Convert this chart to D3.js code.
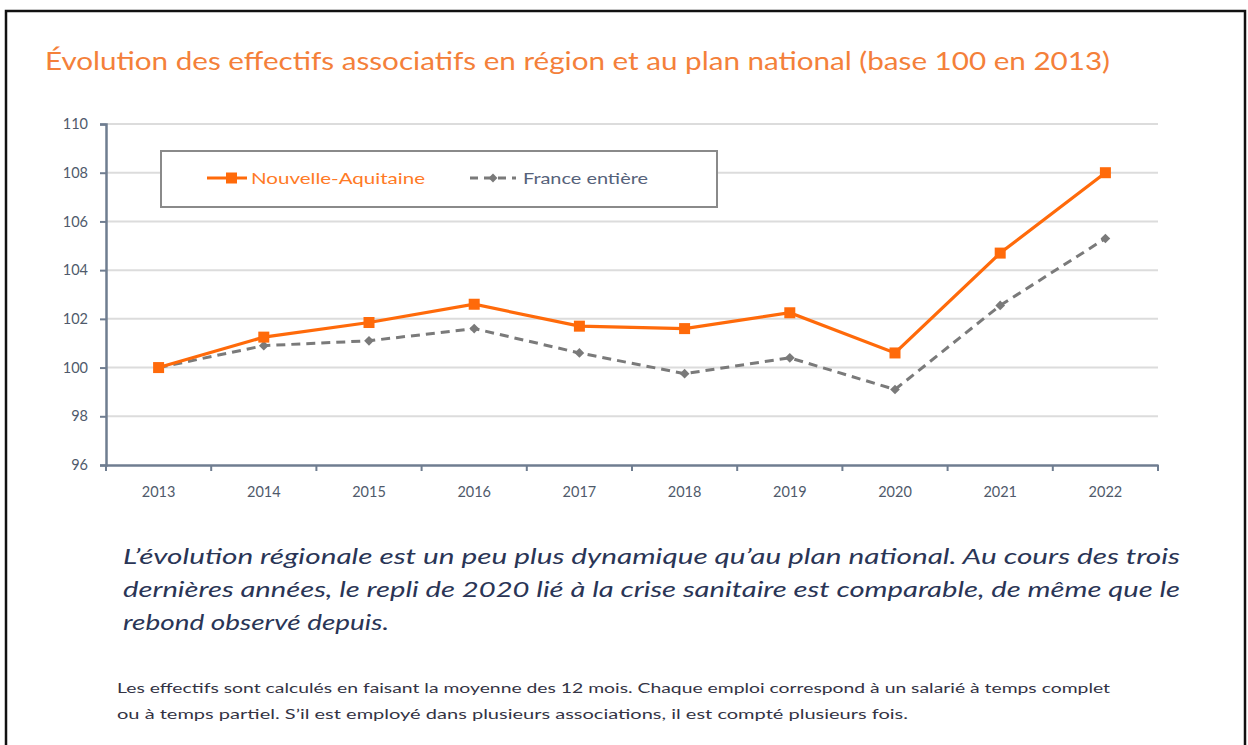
<!DOCTYPE html>
<html><head><meta charset="utf-8">
<script src="https://cdn.jsdelivr.net/npm/d3@7"></script>
<style>
html,body{margin:0;padding:0;background:#fff;}
svg{display:block;}
</style></head>
<body>
<svg id="c" width="1248" height="745"></svg>
<script>
const years = ["2013","2014","2015","2016","2017","2018","2019","2020","2021","2022"];
const nouvelleAquitaine = [100, 101.25, 101.85, 102.6, 101.7, 101.6, 102.25, 100.6, 104.7, 108.0];
const franceEntiere = [100, 100.9, 101.1, 101.6, 100.6, 99.75, 100.4, 99.1, 102.55, 105.3];
const yTicks = [96, 98, 100, 102, 104, 106, 108, 110];
const seriesNames = ["Nouvelle-Aquitaine", "France entière"];
const titleText = "Évolution des effectifs associatifs en région et au plan national (base 100 en 2013)";
const captionLines = [
  "L’évolution régionale est un peu plus dynamique qu’au plan national. Au cours des trois",
  "dernières années, le repli de 2020 lié à la crise sanitaire est comparable, de même que le",
  "rebond observé depuis."
];
const noteLines = [
  "Les effectifs sont calculés en faisant la moyenne des 12 mois. Chaque emploi correspond à un salarié à temps complet",
  "ou à temps partiel. S’il est employé dans plusieurs associations, il est compté plusieurs fois."
];

const svg = d3.select("#c");
const font = "Lato, 'Open Sans', sans-serif";

// frame
svg.append("rect").attr("x",6).attr("y",11).attr("width",1239).attr("height",760)
  .attr("fill","none").attr("stroke","#111").attr("stroke-width",2.5);

// title
svg.append("text").attr("x",45).attr("y",70).text(titleText)
  .attr("font-family",font).attr("font-size",25).attr("fill","#f4803a")
  .attr("textLength",1065).attr("lengthAdjust","spacingAndGlyphs");

const x = d3.scaleBand().domain(years).range([106,1158]);
const y = d3.scaleLinear().domain([96,110]).range([465,124]);
const axisColor = "#6f7d90";

// gridlines
svg.append("g").selectAll("line").data(yTicks.filter(d=>d>96)).join("line")
  .attr("x1",106).attr("x2",1158).attr("y1",d=>y(d)).attr("y2",d=>y(d))
  .attr("stroke","#dcdcdc").attr("stroke-width",2);

// y axis
const gy = svg.append("g").attr("transform","translate(106,0)")
  .call(d3.axisLeft(y).tickValues(yTicks).tickSize(6).tickPadding(12).tickFormat(d3.format("d")));
gy.select(".domain").attr("stroke",axisColor).attr("stroke-width",2.5);
gy.selectAll(".tick line").attr("stroke",axisColor).attr("stroke-width",2);
gy.selectAll(".tick text").attr("font-family",font).attr("font-size",14.5).attr("fill","#4f5a6b");

// x axis
const gx = svg.append("g").attr("transform","translate(0,465)")
  .call(d3.axisBottom(x).tickSize(0).tickPadding(22));
gx.select(".domain").attr("stroke",axisColor).attr("stroke-width",2.5);
gx.selectAll(".tick text").attr("font-family",font).attr("font-size",14.5).attr("fill","#4f5a6b");
// boundary ticks
const bounds = years.map(d=>x(d)).concat([x(years[years.length-1])+x.bandwidth()]);
gx.append("g").selectAll("line").data(bounds).join("line")
  .attr("x1",d=>d).attr("x2",d=>d).attr("y1",0).attr("y2",6)
  .attr("stroke",axisColor).attr("stroke-width",2);

const cx = d => x(d) + x.bandwidth()/2;
const line = d3.line().x((d,i)=>cx(years[i])).y(d=>y(d));

// France entière
svg.append("path").datum(franceEntiere).attr("d",line).attr("fill","none")
  .attr("stroke","#7a7a7a").attr("stroke-width",3).attr("stroke-dasharray","9,6");
svg.append("g").selectAll("path").data(franceEntiere).join("path")
  .attr("d",d3.symbol(d3.symbolDiamond2,60)())
  .attr("transform",(d,i)=>`translate(${cx(years[i])},${y(d)})`)
  .attr("fill","#7a7a7a");

// Nouvelle-Aquitaine
svg.append("path").datum(nouvelleAquitaine).attr("d",line).attr("fill","none")
  .attr("stroke","#ff6a0a").attr("stroke-width",3.2);
svg.append("g").selectAll("rect").data(nouvelleAquitaine).join("rect")
  .attr("x",(d,i)=>cx(years[i])-5.5).attr("y",d=>y(d)-5.5).attr("width",11).attr("height",11)
  .attr("fill","#ff6a0a");

// legend
const lg = svg.append("g");
lg.append("rect").attr("x",161).attr("y",151).attr("width",556).attr("height",56)
  .attr("fill","#fff").attr("stroke","#8a8a8a").attr("stroke-width",2);
lg.append("line").attr("x1",207).attr("x2",247).attr("y1",178).attr("y2",178)
  .attr("stroke","#ff6a0a").attr("stroke-width",3.2);
lg.append("rect").attr("x",226).attr("y",172.5).attr("width",11).attr("height",11).attr("fill","#ff6a0a");
lg.append("text").attr("x",251).attr("y",184).text(seriesNames[0])
  .attr("font-family",font).attr("font-size",15).attr("fill","#ff7a26")
  .attr("textLength",174).attr("lengthAdjust","spacingAndGlyphs");
lg.append("line").attr("x1",470).attr("x2",516).attr("y1",178).attr("y2",178)
  .attr("stroke","#7a7a7a").attr("stroke-width",3).attr("stroke-dasharray","8,6");
lg.append("path").attr("d",d3.symbol(d3.symbolDiamond2,50)())
  .attr("transform","translate(493,178)").attr("fill","#7a7a7a");
lg.append("text").attr("x",523).attr("y",184).text(seriesNames[1])
  .attr("font-family",font).attr("font-size",15).attr("fill","#56627a")
  .attr("textLength",125).attr("lengthAdjust","spacingAndGlyphs");

// caption
const capY = [564, 597, 630];
const capW = [1057, 1057, 266];
captionLines.forEach((t,i)=>{
  svg.append("text").attr("x",123).attr("y",capY[i]).text(t)
    .attr("font-family",font).attr("font-style","italic").attr("font-size",22).attr("fill","#2a3556")
    .attr("textLength",capW[i]).attr("lengthAdjust","spacingAndGlyphs");
});

// note
const noteY = [693, 719];
const noteW = [993, 791];
noteLines.forEach((t,i)=>{
  svg.append("text").attr("x",117).attr("y",noteY[i]).text(t)
    .attr("font-family",font).attr("font-size",13.5).attr("fill","#333344")
    .attr("textLength",noteW[i]).attr("lengthAdjust","spacingAndGlyphs");
});
</script>
</body></html>
